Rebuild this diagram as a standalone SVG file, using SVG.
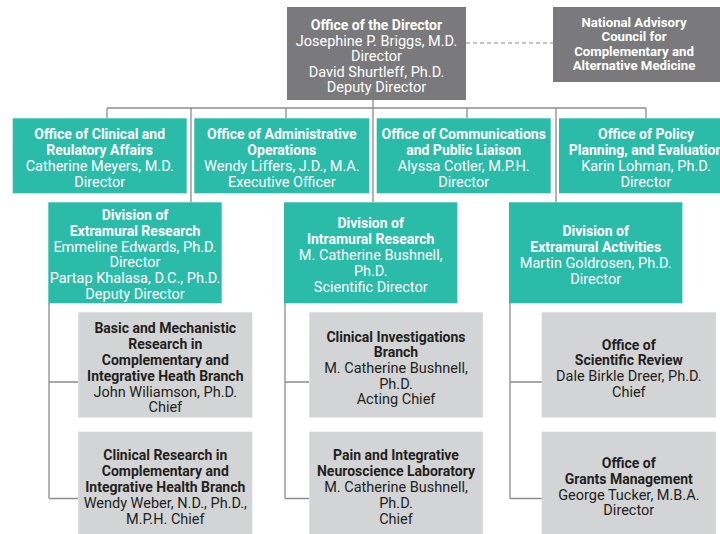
<svg xmlns="http://www.w3.org/2000/svg" width="720" height="534" viewBox="0 0 720 534">
<style>
.dk{fill:#7a7a7c}
.tl{fill:#2bbca9}
.gy{fill:#d3d4d6}
text{font-family:"Liberation Sans Narrow","Roboto","Liberation Sans",sans-serif;font-size:14.5px;text-anchor:middle}
.w{fill:#ffffff}
.k{fill:#231f20}
.b{font-weight:bold;font-size:14px}
.c{font-weight:bold;font-size:13.2px}
.ln{stroke:#8c8c8e;stroke-width:1.3;fill:none}
.dash{stroke:#8c8c8e;stroke-width:1.2;stroke-dasharray:4 3;fill:none}
</style>
<rect width="720" height="534" fill="#ffffff"/>
<g id="connectors">
<path class="dash" d="M466 43H553"/>
<path class="ln" d="M107 108H646M373 100V202M191 108V202M556 108V202M107 108V118M286 108V118M467 108V118M646 108V118"/>
<path class="ln" d="M49 303V498.5M49 382H78M49 498.5H78"/>
<path class="ln" d="M285 303V498.5M285 382H309M285 498.5H309"/>
<path class="ln" d="M510 303V498.5M510 382H542M510 498.5H542"/>
</g>
<g id="director">
<rect class="dk" x="287" y="7" width="179" height="93"/>
<text class="w"><tspan class="b" x="376.5" y="30">Office of the Director</tspan><tspan x="376.5" y="45.6">Josephine P. Briggs, M.D.</tspan><tspan x="376.5" y="61.2">Director</tspan><tspan x="376.5" y="76.8">David Shurtleff, Ph.D.</tspan><tspan x="376.5" y="92.4">Deputy Director</tspan></text>
</g>
<g id="council">
<rect class="dk" x="553" y="7" width="167" height="75"/>
<text class="w c"><tspan x="634" y="26.5">National Advisory</tspan><tspan x="634" y="41">Council for</tspan><tspan x="634" y="55.5">Complementary and</tspan><tspan x="634" y="70">Alternative Medicine</tspan></text>
</g>
<g id="ocra">
<rect class="tl" x="12.7" y="118.3" width="174" height="75"/>
<text class="w"><tspan class="b" x="99.7" y="138.5">Office of Clinical and</tspan><tspan class="b" x="99.7" y="154.5">Reulatory Affairs</tspan><tspan x="99.7" y="170.5">Catherine Meyers, M.D.</tspan><tspan x="99.7" y="186.5">Director</tspan></text>
</g>
<g id="oao">
<rect class="tl" x="194.3" y="118.3" width="175" height="75"/>
<text class="w"><tspan class="b" x="281.8" y="138.5">Office of Administrative</tspan><tspan class="b" x="281.8" y="154.5">Operations</tspan><tspan x="281.8" y="170.5">Wendy Liffers, J.D., M.A.</tspan><tspan x="281.8" y="186.5">Executive Officer</tspan></text>
</g>
<g id="ocpl">
<rect class="tl" x="376.7" y="118.3" width="174" height="75"/>
<text class="w"><tspan class="b" x="463.7" y="138.5">Office of Communications</tspan><tspan class="b" x="463.7" y="154.5">and Public Liaison</tspan><tspan x="463.7" y="170.5">Alyssa Cotler, M.P.H.</tspan><tspan x="463.7" y="186.5">Director</tspan></text>
</g>
<g id="oppe">
<rect class="tl" x="559" y="118.3" width="174" height="75"/>
<text class="w"><tspan class="b" x="646" y="138.5">Office of Policy</tspan><tspan class="b" x="646" y="154.5">Planning, and Evaluation</tspan><tspan x="646" y="170.5">Karin Lohman, Ph.D.</tspan><tspan x="646" y="186.5">Director</tspan></text>
</g>
<g id="der">
<rect class="tl" x="48.3" y="202.3" width="173.4" height="101"/>
<text class="w"><tspan class="b" x="135" y="220">Division of</tspan><tspan class="b" x="135" y="235.8">Extramural Research</tspan><tspan x="135" y="251.6">Emmeline Edwards, Ph.D.</tspan><tspan x="135" y="267.4">Director</tspan><tspan x="135" y="283.2">Partap Khalasa, D.C., Ph.D.</tspan><tspan x="135" y="299">Deputy Director</tspan></text>
</g>
<g id="dir">
<rect class="tl" x="284" y="202.3" width="173.4" height="101"/>
<text class="w"><tspan class="b" x="370.7" y="227.5">Division of</tspan><tspan class="b" x="370.7" y="243.5">Intramural Research</tspan><tspan x="370.7" y="259.5">M. Catherine Bushnell,</tspan><tspan x="370.7" y="275.5">Ph.D.</tspan><tspan x="370.7" y="291.5">Scientific Director</tspan></text>
</g>
<g id="dea">
<rect class="tl" x="509" y="202.3" width="173.4" height="101"/>
<text class="w"><tspan class="b" x="595.7" y="235.5">Division of</tspan><tspan class="b" x="595.7" y="251.5">Extramural Activities</tspan><tspan x="595.7" y="267.5">Martin Goldrosen, Ph.D.</tspan><tspan x="595.7" y="283.5">Director</tspan></text>
</g>
<g id="bmr">
<rect class="gy" x="78.3" y="312.3" width="174" height="105.2"/>
<text class="k"><tspan class="b" x="165.3" y="332.5">Basic and Mechanistic</tspan><tspan class="b" x="165.3" y="348.5">Research in</tspan><tspan class="b" x="165.3" y="364.5">Complementary and</tspan><tspan class="b" x="165.3" y="380.5">Integrative Heath Branch</tspan><tspan x="165.3" y="396.5">John Wiliamson, Ph.D.</tspan><tspan x="165.3" y="412">Chief</tspan></text>
</g>
<g id="crc">
<rect class="gy" x="78.3" y="431.7" width="174" height="102.3"/>
<text class="k"><tspan class="b" x="165.3" y="460">Clinical Research in</tspan><tspan class="b" x="165.3" y="476">Complementary and</tspan><tspan class="b" x="165.3" y="492">Integrative Health Branch</tspan><tspan x="165.3" y="508">Wendy Weber, N.D., Ph.D.,</tspan><tspan x="165.3" y="523.5">M.P.H. Chief</tspan></text>
</g>
<g id="cib">
<rect class="gy" x="309.3" y="312.3" width="173.5" height="105.2"/>
<text class="k"><tspan class="b" x="396" y="341.5">Clinical Investigations</tspan><tspan class="b" x="396" y="357">Branch</tspan><tspan x="396" y="373">M. Catherine Bushnell,</tspan><tspan x="396" y="388.5">Ph.D.</tspan><tspan x="396" y="404">Acting Chief</tspan></text>
</g>
<g id="pinl">
<rect class="gy" x="309.3" y="431.7" width="173.5" height="102.3"/>
<text class="k"><tspan class="b" x="396" y="460">Pain and Integrative</tspan><tspan class="b" x="396" y="476">Neuroscience Laboratory</tspan><tspan x="396" y="492">M. Catherine Bushnell,</tspan><tspan x="396" y="508">Ph.D.</tspan><tspan x="396" y="523.5">Chief</tspan></text>
</g>
<g id="osr">
<rect class="gy" x="541.7" y="312.3" width="174.3" height="105.2"/>
<text class="k"><tspan class="b" x="628.8" y="349.5">Office of</tspan><tspan class="b" x="628.8" y="365">Scientific Review</tspan><tspan x="628.8" y="381">Dale Birkle Dreer, Ph.D.</tspan><tspan x="628.8" y="396.5">Chief</tspan></text>
</g>
<g id="ogm">
<rect class="gy" x="541.7" y="431.7" width="174.3" height="102.3"/>
<text class="k"><tspan class="b" x="628.8" y="468">Office of</tspan><tspan class="b" x="628.8" y="484">Grants Management</tspan><tspan x="628.8" y="499.5">George Tucker, M.B.A.</tspan><tspan x="628.8" y="515">Director</tspan></text>
</g>
</svg>
